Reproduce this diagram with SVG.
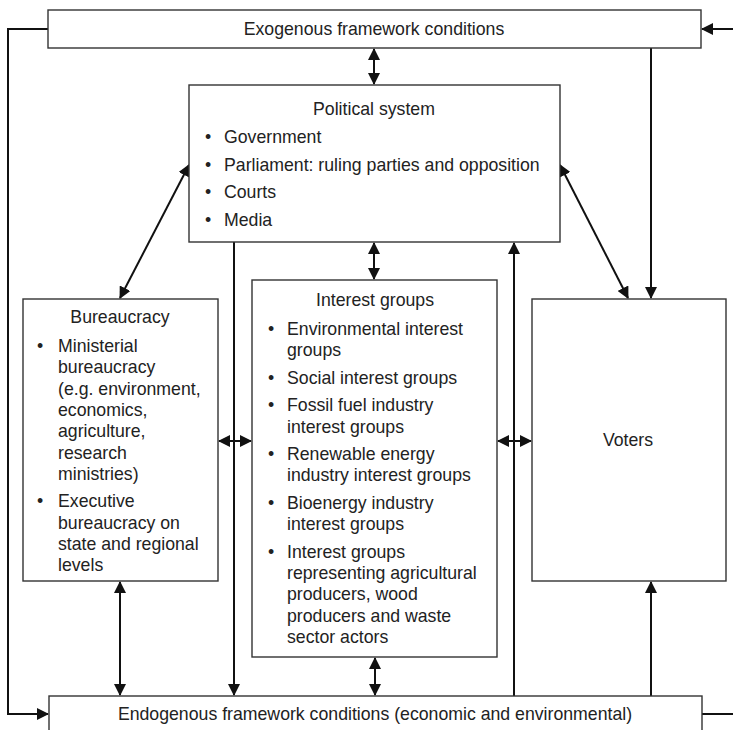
<svg xmlns="http://www.w3.org/2000/svg" width="733" height="730" viewBox="0 0 733 730">
<defs>
<style>
.box{fill:#fff;stroke:#333;stroke-width:1.4}
.t{font-family:"Liberation Sans",Arial,sans-serif;font-size:17.7px;fill:#222}
.c{text-anchor:middle}
.ln{fill:none;stroke:#111;stroke-width:2}
.a1{marker-end:url(#ah)}
.a2{marker-start:url(#ah);marker-end:url(#ah)}
</style>
<marker id="ah" viewBox="0 0 12 12" refX="11" refY="6" markerWidth="12" markerHeight="12" markerUnits="userSpaceOnUse" orient="auto-start-reverse">
<path d="M0,0 L12,6 L0,12 z" fill="#111"/>
</marker>
</defs>
<rect width="733" height="730" fill="#fff"/>
<g id="connectors">
<line class="ln a2" x1="374" y1="49" x2="374" y2="84"/>
<polyline class="ln a1" points="48,29 8,29 8,714 48,714"/>
<line class="ln a1" x1="733" y1="29" x2="702" y2="29"/>
<line class="ln a1" x1="651" y1="48" x2="651" y2="298"/>
<line class="ln a2" x1="189" y1="165" x2="120" y2="298"/>
<line class="ln a2" x1="560" y1="165" x2="628" y2="298"/>
<line class="ln a2" x1="374" y1="243" x2="374" y2="279"/>
<line class="ln a1" x1="234" y1="242" x2="234" y2="695"/>
<line class="ln a1" x1="514" y1="696" x2="514" y2="243"/>
<line class="ln a2" x1="219" y1="441" x2="251" y2="441"/>
<line class="ln a2" x1="498" y1="441" x2="531" y2="441"/>
<line class="ln a2" x1="120" y1="582" x2="120" y2="695"/>
<line class="ln a2" x1="375" y1="658" x2="375" y2="695"/>
<line class="ln a1" x1="651" y1="696" x2="651" y2="582"/>
<line class="ln" x1="702" y1="714" x2="733" y2="714"/>
</g>
<g id="exogenous">
<rect class="box" x="48" y="10" width="653" height="38"/>
<text class="t c" x="374" y="35">Exogenous framework conditions</text>
</g>
<g id="political">
<rect class="box" x="189" y="85" width="371" height="157"/>
<text class="t c" x="374" y="115">Political system</text>
<text class="t" x="205" y="143">•</text><text class="t" x="224" y="143">Government</text>
<text class="t" x="205" y="171">•</text><text class="t" x="224" y="171">Parliament: ruling parties and opposition</text>
<text class="t" x="205" y="198">•</text><text class="t" x="224" y="198">Courts</text>
<text class="t" x="205" y="226">•</text><text class="t" x="224" y="226">Media</text>
</g>
<g id="bureaucracy">
<rect class="box" x="23" y="299" width="195" height="282"/>
<text class="t c" x="120" y="323">Bureaucracy</text>
<text class="t" x="37" y="352">•</text>
<text class="t" x="58" y="352">Ministerial</text>
<text class="t" x="58" y="373.3">bureaucracy</text>
<text class="t" x="58" y="394.6">(e.g. environment,</text>
<text class="t" x="58" y="415.9">economics,</text>
<text class="t" x="58" y="437.2">agriculture,</text>
<text class="t" x="58" y="458.5">research</text>
<text class="t" x="58" y="479.8">ministries)</text>
<text class="t" x="37" y="507.3">•</text>
<text class="t" x="58" y="507.3">Executive</text>
<text class="t" x="58" y="528.6">bureaucracy on</text>
<text class="t" x="58" y="549.9">state and regional</text>
<text class="t" x="58" y="571.2">levels</text>
</g>
<g id="interest">
<rect class="box" x="252" y="280" width="245" height="377"/>
<text class="t c" x="375" y="306">Interest groups</text>
<text class="t" x="268" y="335">•</text>
<text class="t" x="287" y="335">Environmental interest</text>
<text class="t" x="287" y="356.3">groups</text>
<text class="t" x="268" y="383.8">•</text>
<text class="t" x="287" y="383.8">Social interest groups</text>
<text class="t" x="268" y="411.3">•</text>
<text class="t" x="287" y="411.3">Fossil fuel industry</text>
<text class="t" x="287" y="432.6">interest groups</text>
<text class="t" x="268" y="460.1">•</text>
<text class="t" x="287" y="460.1">Renewable energy</text>
<text class="t" x="287" y="481.4">industry interest groups</text>
<text class="t" x="268" y="508.9">•</text>
<text class="t" x="287" y="508.9">Bioenergy industry</text>
<text class="t" x="287" y="530.2">interest groups</text>
<text class="t" x="268" y="557.7">•</text>
<text class="t" x="287" y="557.7">Interest groups</text>
<text class="t" x="287" y="579">representing agricultural</text>
<text class="t" x="287" y="600.3">producers, wood</text>
<text class="t" x="287" y="621.6">producers and waste</text>
<text class="t" x="287" y="642.9">sector actors</text>
</g>
<g id="voters">
<rect class="box" x="532" y="299" width="194" height="282"/>
<text class="t c" x="628" y="446">Voters</text>
</g>
<g id="endogenous">
<rect class="box" x="49" y="696" width="653" height="50"/>
<text class="t c" x="375" y="720">Endogenous framework conditions (economic and environmental)</text>
</g>
</svg>
